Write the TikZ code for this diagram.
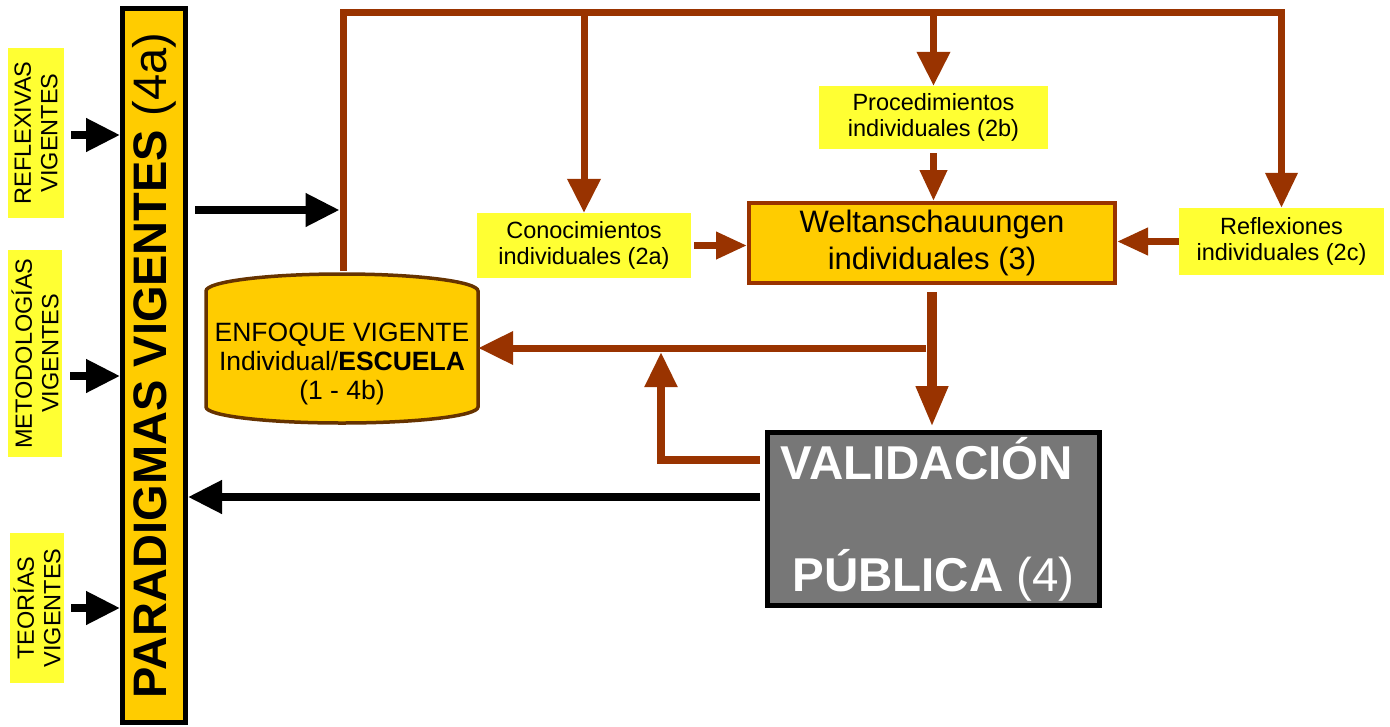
\documentclass[tikz,border=0pt]{standalone}
\usepackage{fontspec}
\setmainfont{Liberation Sans}
\usetikzlibrary{arrows.meta}
\definecolor{brn}{HTML}{993300}
\definecolor{dbrn}{HTML}{663300}
\definecolor{gold}{HTML}{FFCC00}
\definecolor{lemon}{HTML}{FFFF33}
\definecolor{valgray}{HTML}{777777}
\begin{document}
\begin{tikzpicture}[x=1pt,y=-1pt,
  brline/.style={draw=brn, line width=7pt, line join=miter},
  brarrow/.style={brline, -{Triangle[length=34pt,width=32pt]}},
  brsmall/.style={brline, -{Triangle[length=31pt,width=26pt]}},
  bkarrow/.style={draw=black, line width=7.5pt, -{Triangle[length=34pt,width=32pt]}},
  lemonbox/.style={fill=lemon, inner sep=0pt, align=center, font=\fontsize{23.5}{26.5}\selectfont},
  sidelabel/.style={lemonbox, rotate=90},
]
\useasboundingbox (0,0) rectangle (1390,726);
\fill[white] (0,0) rectangle (1390,726);

% paradigm bar
\node[draw=black, line width=5pt, fill=gold, minimum width=63pt, minimum height=714pt, inner sep=0pt] (bar) at (154,365.5) {};
\node[rotate=90, inner sep=0pt, font=\fontsize{47}{50}\selectfont] (bartext) at (bar.center) {\textbf{PARADIGMAS VIGENTES} (4a)};

% side labels
\node[sidelabel, minimum width=170pt, minimum height=56pt] (reflv) at (36,133) {REFLEXIVAS\\VIGENTES};
\node[sidelabel, minimum width=207pt, minimum height=54pt] (metv) at (35,353.5) {METODOLOGÍAS\\VIGENTES};
\node[sidelabel, minimum width=150pt, minimum height=54pt] (teov) at (37,608) {TEORÍAS\\VIGENTES};

\draw[bkarrow, shorten <=7pt] ([yshift=-2pt]reflv.south) -- ([yshift=-2pt]reflv.south -| bar.west);
\draw[bkarrow, shorten <=8pt] ([yshift=-22.5pt]metv.south) -- ([yshift=-22.5pt]metv.south -| bar.west);
\draw[bkarrow, shorten <=7pt] (teov.south) -- (teov.south -| bar.west);

% cylinder
\filldraw[draw=dbrn, fill=gold, line width=3.5pt]
  (206,291) arc[start angle=180, end angle=0, x radius=136pt, y radius=17pt]
  -- (478,407) arc[start angle=0, end angle=-180, x radius=136pt, y radius=16pt] -- cycle;
\node[inner sep=0pt, minimum width=272pt, align=center, font=\fontsize{26.5}{29}\selectfont] (enf) at (342,364)
  {ENFOQUE VIGENTE\\Individual/\textbf{ESCUELA}\\(1 - 4b)};
\coordinate (enftop) at (343,271);

% yellow boxes
\node[lemonbox, minimum width=214pt, minimum height=65pt] (con) at (584,245.5) {Conocimientos\\individuales (2a)};
\node[lemonbox, minimum width=229pt, minimum height=63pt] (proc) at (933.5,117.5) {Procedimientos\\individuales (2b)};
\node[lemonbox, minimum width=205pt, minimum height=67pt] (refl) at (1281.5,241.5) {Reflexiones\\individuales (2c)};

% weltanschauungen
\node[draw=brn, line width=4pt, fill=gold, minimum width=366pt, minimum height=80pt, inner sep=0pt, align=center, font=\fontsize{31}{37}\selectfont] (welt) at (932,243) {Weltanschauungen\\individuales (3)};

% top route
\coordinate (tl) at (343,12);
\draw[brline, -{Triangle[length=35pt,width=31pt]}] (enftop) -- (tl) -- (tl -| refl.north) -- (refl.north);
\draw[brarrow] (tl -| con.north) -- (con.north);
\draw[brarrow] (tl -| proc.north) -- (proc.north);

% black arrow from bar to route
\coordinate (tip1) at (339.5,210);
\draw[bkarrow, shorten <=7pt] (bar.east |- tip1) -- (tip1);

% into weltanschauungen
\draw[brsmall, shorten <=3pt] (con.east) -- (con.east -| welt.west);
\draw[brsmall, shorten <=4pt] (proc.south) -- (proc.south |- welt.north);
\draw[brsmall] (refl.west) -- (refl.west -| welt.east);

% validation box
\node[draw=black, line width=5pt, fill=valgray, minimum width=332pt, minimum height=173pt, inner sep=0pt, align=center, text=white, font=\fontsize{47.5}{57}\selectfont] (val) at (933.5,519)
  {\textbf{VALIDACIÓN}\hspace*{13pt}\\[55pt]\textbf{PÚBLICA} (4)};

\draw[draw=brn, line width=10pt, -{Triangle[length=41pt,width=30pt]}, shorten <=7pt, shorten >=3pt] (welt.south) -- (welt.south |- val.north);

\coordinate (j1) at (926,348);
\draw[brline, -{Triangle[length=35pt,width=32pt]}] (j1) -- (j1 -| enf.east);

\coordinate (j2) at (661,352);
\draw[brline, line width=8pt, -{Triangle[length=35pt,width=31pt]}, shorten <=5pt] ([yshift=59pt]val.west) -| (j2);

\draw[bkarrow, shorten <=5pt] ([yshift=22pt]val.west) -- ([yshift=22pt]val.west -| bar.east);
\end{tikzpicture}
\end{document}
